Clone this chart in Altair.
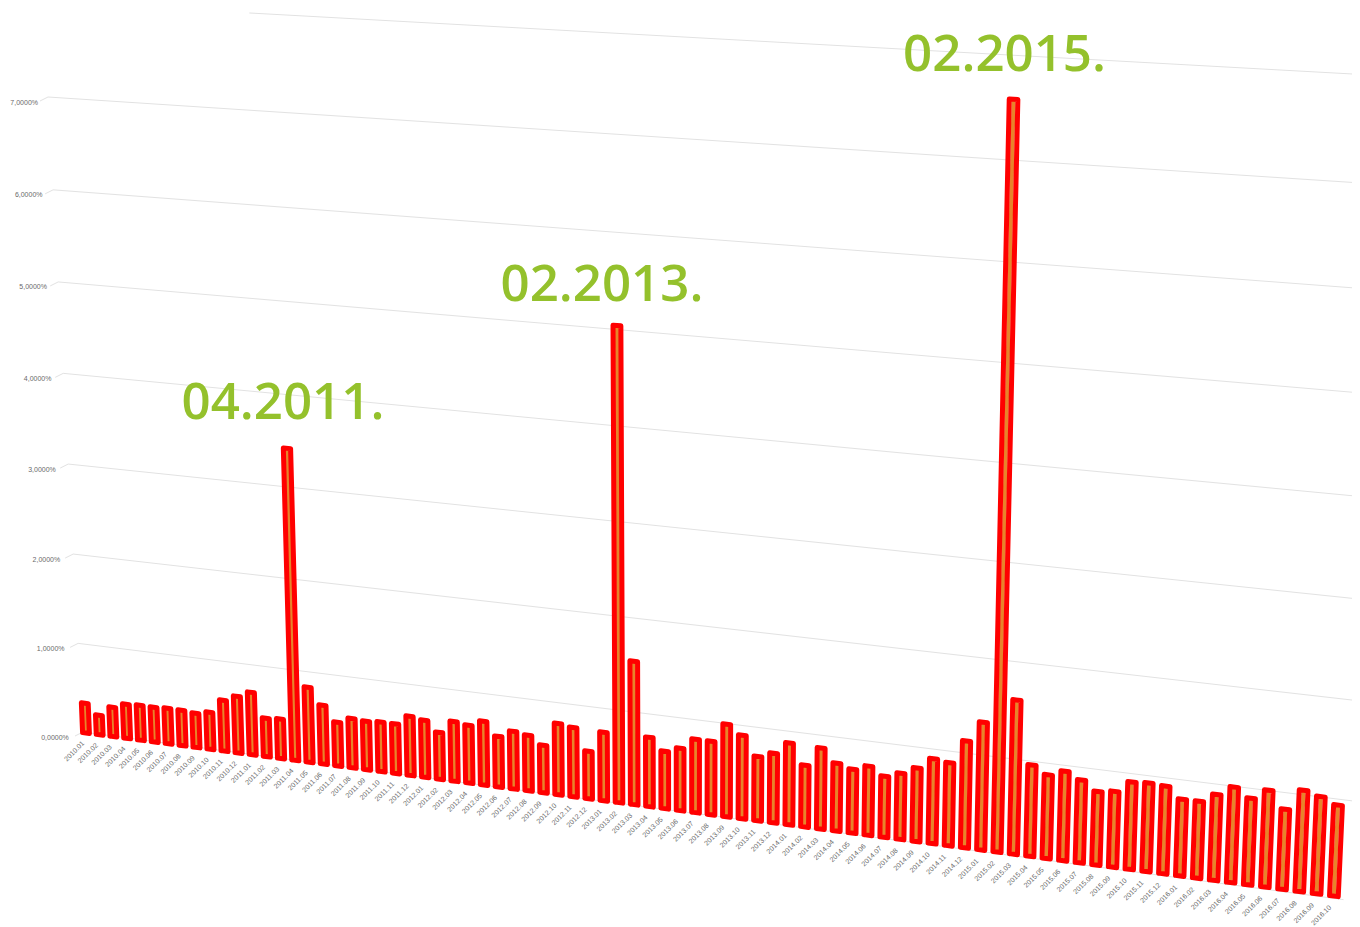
import altair as alt
import numpy as np
import pandas as pd

months = [f"{y}.{m:02d}" for y in range(2010, 2017) for m in range(1, 13)][:82]
values = [0.315,0.207,0.31,0.36,0.368,0.365,0.373,0.371,0.358,0.387,0.531,0.59,0.65,0.40,0.41,3.18,
          0.775,0.608,0.452,0.51,0.50,0.51,0.51,0.607,0.585,0.48,0.61,0.59,0.65,0.515,0.585,0.564,
          0.482,0.72,0.70,0.48,0.69,4.67,1.433,0.695,0.575,0.624,0.733,0.732,0.92,0.83,0.64,0.69,
          0.81,0.61,0.80,0.67,0.63,0.68,0.60,0.65,0.72,0.83,0.81,1.04,1.24,7.0,1.49,0.885,0.81,
          0.865,0.80,0.71,0.73,0.84,0.85,0.84,0.735,0.735,0.82,0.91,0.825,0.92,0.76,0.96,0.92,0.86]
grid_levels = [0, 1, 2, 3, 4, 5, 6, 7, 8.02]
grid_labels = ["0,0000%", "1,0000%", "2,0000%", "3,0000%", "4,0000%", "5,0000%", "6,0000%", "7,0000%"]
grid_start = [0, 0, 0, 0, 0, 0, 0, 0, 0.175]
grid_end = [0.988, 1, 1, 1, 1, 1, 1, 1, 1]
peak_labels = ["04.2011.", "02.2013.", "02.2015."]
peak_index = [15, 37, 61]
peak_dx = [-4, -15, -9]
peak_dy = [-29, -25, -28]

BAR_HALF = 0.25


def bar_proj(i, v):
    """Perspective of the 3-D view: month index and percentage to picture position."""
    w = 1 - 0.0014 * i - 0.0065 * v
    return (85 + 13.54 * i - 4.42 * v) / w, (734 + 0.757 * i - 99 * v) / w


# the back wall's own perspective, from its four corners
wall_src = [(0, 0), (1, 0), (0, 7), (1, 7)]
wall_dst = [(82, 733), (1360, 903), (47, 98), (1360, 184)]
A, B = [], []
for (s, t), (px, py) in zip(wall_src, wall_dst):
    A.append([s, t, 1, 0, 0, 0, -s * px, -t * px])
    A.append([0, 0, 0, s, t, 1, -s * py, -t * py])
    B += [px, py]
H = np.linalg.solve(np.array(A, float), np.array(B, float))


def wall_proj(s, t):
    w = H[6] * s + H[7] * t + 1
    return (H[0] * s + H[1] * t + H[2]) / w, (H[3] * s + H[4] * t + H[5]) / w


outline, fill, xlabels = [], [], []
for i, (m, v) in enumerate(zip(months, values)):
    corners = [(i - BAR_HALF, 0), (i + BAR_HALF, 0), (i + BAR_HALF, v), (i - BAR_HALF, v), (i - BAR_HALF, 0)]
    for k, (a, b) in enumerate(corners):
        x, y = bar_proj(a, b)
        outline.append(dict(bar=i, k=k, x=x, y=y))
    for k, b in enumerate((0, v)):
        x, y = bar_proj(i, b)
        fill.append(dict(bar=i, k=k, x=x, y=y))
    x, y = bar_proj(i, -0.10)
    xlabels.append(dict(x=x - 3, y=y, t=m))

gridrows, ticks, ylabels = [], [], []
for g, a, b in zip(grid_levels, grid_start, grid_end):
    for k, s in enumerate((a, b)):
        x, y = wall_proj(s, g)
        gridrows.append(dict(g=g, k=k, x=x, y=y))
for g, lab in enumerate(grid_labels):
    x0, y0 = wall_proj(0, g)
    for k, (dx, dy) in enumerate(((0, 0), (-8, 4))):
        ticks.append(dict(g=g, k=k, x=x0 + dx, y=y0 + dy))
    ylabels.append(dict(x=x0 - 10 - (7 - g) * 0.6, y=y0 + 5.5, t=lab))

peaks = []
for lab, i, dx, dy in zip(peak_labels, peak_index, peak_dx, peak_dy):
    x, y = bar_proj(i, values[i])
    peaks.append(dict(x=x + dx, y=y + dy, t=lab))

X = alt.X("x:Q", scale=alt.Scale(domain=[7, 1351], nice=False, zero=False), axis=None)
Y = alt.Y("y:Q", scale=alt.Scale(domain=[928, 9], nice=False, zero=False), axis=None)

grid = alt.Chart(pd.DataFrame(gridrows)).mark_line(color="#e2e2e2", strokeWidth=1, clip=False).encode(
    X, Y, detail="g:N", order="k:Q")
tick = alt.Chart(pd.DataFrame(ticks)).mark_line(color="#e2e2e2", strokeWidth=1).encode(
    X, Y, detail="g:N", order="k:Q")
ylab = alt.Chart(pd.DataFrame(ylabels)).mark_text(
    align="right", baseline="middle", fontSize=7, font="Liberation Sans", color="#6a6a6a"
).encode(X, Y, text="t:N")
xlab = alt.Chart(pd.DataFrame(xlabels)).mark_text(
    align="right", baseline="middle", angle=315, fontSize=7, font="Liberation Sans", color="#6a6a6a"
).encode(X, Y, text="t:N")
inner = alt.Chart(pd.DataFrame(fill)).mark_line(color="#E8832A", strokeWidth=4, strokeCap="butt").encode(
    X, Y, detail="bar:N", order="k:Q")
edge = alt.Chart(pd.DataFrame(outline)).mark_line(
    color="#FF0000", strokeWidth=5, strokeJoin="round", strokeCap="round"
).encode(X, Y, detail="bar:N", order="k:Q")
notes = alt.Chart(pd.DataFrame(peaks)).mark_text(
    align="center", baseline="alphabetic", fontSize=51, fontWeight=600, font="Open Sans", color="#94C12C"
).encode(X, Y, text="t:N")

chart = alt.layer(grid, tick, ylab, xlab, inner, edge, notes).properties(
    width=1344, height=919, padding=0, background="white",
    autosize=alt.AutoSizeParams(type="none"),
).configure_view(stroke=None)
chart.save("out.html", embed_options={"renderer": "svg", "actions": False})
